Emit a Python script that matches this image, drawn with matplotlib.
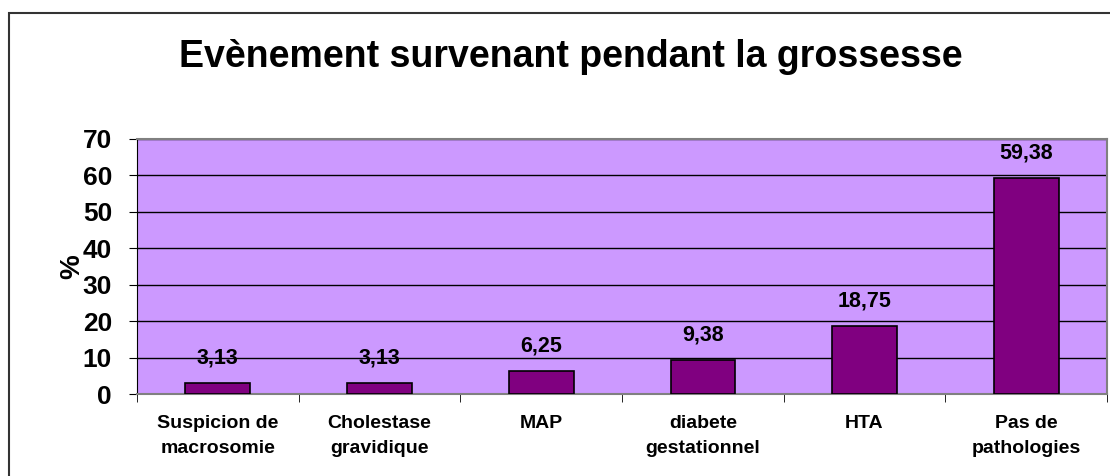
import matplotlib
matplotlib.use('Agg')
import matplotlib.pyplot as plt
from matplotlib.patches import Rectangle
import numpy as np

categories = ["Suspicion de\nmacrosomie", "Cholestase\ngravidique", "MAP",
              "diabete\ngestationnel", "HTA", "Pas de\npathologies"]
values = [3.13, 3.13, 6.25, 9.38, 18.75, 59.38]
value_labels = ["3,13", "3,13", "6,25", "9,38", "18,75", "59,38"]
yticks = [0, 10, 20, 30, 40, 50, 60, 70]

plt.rcParams['font.family'] = ['Liberation Sans', 'DejaVu Sans']

fig = plt.figure(figsize=(11.1, 4.76), dpi=100)
fig.patch.set_facecolor('white')

# outer frame of the chart
fig.patches.append(Rectangle((9 / 1110, -0.05), 1.2, 1 - 13 / 476 + 0.05,
                             transform=fig.transFigure, fill=False,
                             edgecolor='#333333', linewidth=1.5))

ax = fig.add_axes([137 / 1110, 1 - 394 / 476, (1107 - 137) / 1110, (394 - 139) / 476])
ax.set_facecolor('#CC99FF')

pos = np.arange(len(categories))
ax.bar(pos, values, width=0.4, color='#800080', edgecolor='black', linewidth=1.2, zorder=3)
for p, v, lab in zip(pos, values, value_labels):
    ax.text(p, v + 4.0, lab, ha='center', va='bottom', fontsize=15.5, fontweight='bold')

ax.set_xlim(-0.5, len(categories) - 0.5)
ax.set_ylim(0, 70)
ax.set_yticks(yticks)
ax.set_yticklabels([str(t) for t in yticks], fontsize=19, fontweight='bold')
ax.yaxis.grid(True, color='black', linewidth=1)
ax.set_axisbelow(True)

ax.set_xticks(pos)
ax.set_xticklabels(categories, fontsize=14, fontweight='bold', linespacing=1.6)
ax.tick_params(axis='x', length=0, pad=15)
ax.set_xticks(np.arange(len(categories) + 1) - 0.5, minor=True)
ax.tick_params(axis='x', which='minor', length=6, color='black')
ax.tick_params(axis='y', length=6, color='black', pad=12)

for s in ['top', 'right', 'bottom']:
    ax.spines[s].set_color('#808080')
    ax.spines[s].set_linewidth(1.5)
ax.spines['left'].set_color('black')

ax.set_ylabel('%', fontsize=20, fontweight='bold', labelpad=-2)

fig.text(0.5145, 1 - 57 / 476, 'Evènement survenant pendant la grossesse',
         ha='center', va='center', fontsize=27, fontweight='bold')

plt.savefig('out.png', dpi=100)
